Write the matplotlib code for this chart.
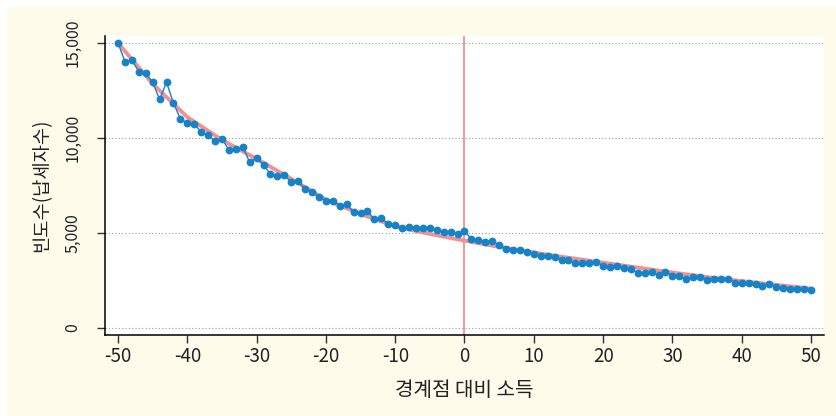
import numpy as np
import matplotlib
matplotlib.use("Agg")
import matplotlib.pyplot as plt
from matplotlib.patches import Rectangle

plt.rcParams["font.family"] = ["Noto Sans CJK KR", "DejaVu Sans"]
plt.rcParams["axes.unicode_minus"] = False

# income relative to the threshold
x = np.arange(-50, 51)

counts = [
    15000, 14020, 14100, 13490, 13400, 12930, 12030, 12930, 11830, 11020,
    10770, 10740, 10320, 10140, 9840, 9960, 9370, 9420, 9530, 8720,
    8950, 8580, 8100, 8020, 8050, 7670, 7720, 7320, 7160, 6880,
    6700, 6700, 6440, 6510, 6110, 6040, 6160, 5720, 5770, 5490,
    5420, 5250, 5320, 5280, 5250, 5250, 5160, 5070, 5070, 4940,
    5100,
    4680, 4620, 4540, 4580, 4370, 4160, 4100, 4100, 3980, 3880,
    3790, 3790, 3740, 3580, 3580, 3400, 3440, 3440, 3460, 3260,
    3230, 3280, 3140, 3090, 2910, 2910, 2970, 2790, 2950, 2745,
    2740, 2580, 2675, 2675, 2510, 2560, 2580, 2580, 2390, 2360,
    2370, 2340, 2210, 2300, 2165, 2080, 2050, 2045, 2045, 1990,
]

# fitted counterfactual curve
fit_x = np.arange(-50, 51, 5)
fit_y = [15000, 12850, 11100, 9900, 8900, 7850, 6750, 6000, 5350, 4950, 4600,
         4270, 3970, 3700, 3440, 3180, 2920, 2680, 2470, 2270, 2070]

yticks = [0, 5000, 10000, 15000]
ytick_labels = ["0", "5,000", "10,000", "15,000"]
xticks = np.arange(-50, 51, 10)

blue = "#1683C9"
red = "#F29191"

fig = plt.figure(figsize=(8.37, 4.16), dpi=100)
fig.patch.set_facecolor("white")
fig.patches.append(Rectangle((7 / 837, 0), 1, (416 - 7) / 416, transform=fig.transFigure,
                             facecolor="#FEFBEB", edgecolor="none", zorder=-10))

ax = fig.add_axes([105 / 837, (416 - 335) / 416, (824 - 105) / 837, (335 - 36) / 416])
ax.set_facecolor("white")

for yv in yticks:
    ax.axhline(yv, color="#9a9a9a", lw=0.8, ls=(0, (1, 2)), zorder=1)

ax.axvline(0, color=red, lw=1.3, zorder=2)
ax.plot(fit_x, fit_y, color=red, lw=2.8, zorder=3, solid_capstyle="butt")
ax.plot(x, counts, color=blue, lw=1.0, marker="o", ms=4.6, mec=blue, mfc=blue, zorder=4)

ax.set_xlim(-51.88, 51.88)
ax.set_ylim(-368, 15368)

ax.spines["top"].set_visible(False)
ax.spines["right"].set_visible(False)
ax.spines["left"].set_linewidth(1.1)
ax.spines["bottom"].set_linewidth(1.1)

ax.set_xticks(xticks)
ax.set_xticklabels([str(v) for v in xticks], fontsize=13.5, color="#222222")
ax.set_yticks(yticks)
ax.set_yticklabels(ytick_labels, fontsize=11.5, rotation=90, va="center", color="#222222")
ax.tick_params(axis="x", direction="out", length=6, width=1, pad=2, color="#333333")
ax.tick_params(axis="y", direction="out", length=6, width=1, pad=11, color="#333333")

ax.set_xlabel("경계점 대비 소득", fontsize=14.5, color="#222222", labelpad=9)
ax.set_ylabel("빈도수(납세자수)", fontsize=13.5, color="#222222", labelpad=9)

fig.savefig("out.png", dpi=100, facecolor=fig.get_facecolor())
